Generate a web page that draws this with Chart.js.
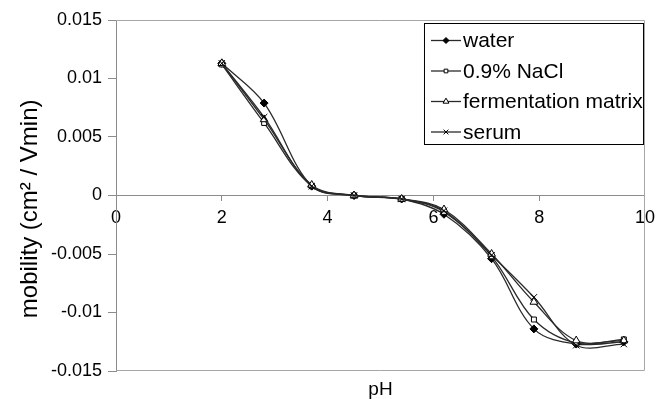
<!DOCTYPE html>
<html>
<head>
<meta charset="utf-8">
<script src="https://cdn.jsdelivr.net/npm/chart.js@4.4.0/dist/chart.umd.min.js"></script>
<style>
html,body{margin:0;padding:0;background:#fff;}
#wrap{width:662px;height:399px;position:relative;}
</style>
</head>
<body>
<div id="wrap"><canvas id="c" width="662" height="399"></canvas></div>
<script>
// ---- data ----
const pHValues      = [2.0, 2.8, 3.7, 4.5, 5.4, 6.2, 7.1, 7.9, 8.7, 9.6];
const waterValues   = [0.0113, 0.0079, 0.0008, 0.0000, -0.0003, -0.0016, -0.0054, -0.0114, -0.0127, -0.0125];
const naclValues    = [0.0112, 0.0062, 0.0008, 0.0000, -0.0003, -0.0014, -0.0052, -0.0106, -0.0126, -0.0123];
const fermValues    = [0.0113, 0.0065, 0.0009, 0.0000, -0.0003, -0.0012, -0.0050, -0.0091, -0.0124, -0.0124];
const serumValues   = [0.0113, 0.0067, 0.0008, 0.0000, -0.0003, -0.0013, -0.0051, -0.0087, -0.0128, -0.0127];
const seriesNames   = ['water', '0.9% NaCl', 'fermentation matrix', 'serum'];
const xTickValues   = [0, 2, 4, 6, 8, 10];
const yTickLabels   = ['-0.015', '-0.01', '-0.005', '0', '0.005', '0.01', '0.015'];
const xTitle = 'pH';
const yTitle = 'mobility (cm\u00B2 / Vmin)';

const FONT = '"Liberation Sans", Arial, Helvetica, sans-serif';
const AXIS_GRAY = '#8c8c8c';
const LINE_COLOR = '#2a2a2a';

function pts(ys) { return pHValues.map((x, i) => ({x: x, y: ys[i]})); }

const markerStyles = [
  {pointStyle: 'rectRot',  radius: 4,   bg: '#000000', border: '#000000'},
  {pointStyle: 'rect',     radius: 3.5, bg: '#ffffff', border: '#000000'},
  {pointStyle: 'triangle', radius: 4.5, bg: '#ffffff', border: '#000000'},
  {pointStyle: 'crossRot', radius: 4.5, bg: '#ffffff', border: '#000000'}
];
const seriesValues = [waterValues, naclValues, fermValues, serumValues];

const datasets = seriesValues.map((vals, i) => ({
  label: seriesNames[i],
  data: pts(vals),
  borderColor: LINE_COLOR,
  borderWidth: 1.3,
  tension: 0.35,
  pointStyle: markerStyles[i].pointStyle,
  pointRadius: markerStyles[i].radius,
  pointBackgroundColor: markerStyles[i].bg,
  pointBorderColor: markerStyles[i].border,
  pointBorderWidth: 1,
  fill: false,
  order: 4 - i
}));

// plot-area border (Excel style)
const plotBorder = {
  id: 'plotBorder',
  beforeDatasetsDraw(chart) {
    const {ctx, chartArea: a} = chart;
    ctx.save();
    ctx.strokeStyle = '#a6a6a6';
    ctx.lineWidth = 1;
    ctx.beginPath();
    ctx.moveTo(a.left, a.top + 0.5);
    ctx.lineTo(a.right - 0.5, a.top + 0.5);
    ctx.lineTo(a.right - 0.5, a.bottom - 0.5);
    ctx.lineTo(a.left, a.bottom - 0.5);
    ctx.stroke();
    ctx.restore();
  }
};

// boxed legend inside the plot area, upper right
const boxLegend = {
  id: 'boxLegend',
  afterDraw(chart) {
    const {ctx, chartArea: a} = chart;
    const boxRight = a.right - 1, boxTop = a.top + 3;
    const boxLeft = boxRight - 220, boxBottom = boxTop + 122;
    ctx.save();
    ctx.fillStyle = '#ffffff';
    ctx.fillRect(boxLeft, boxTop, boxRight - boxLeft, boxBottom - boxTop);
    ctx.strokeStyle = '#000000';
    ctx.lineWidth = 1;
    ctx.strokeRect(boxLeft + 0.5, boxTop + 0.5, boxRight - boxLeft - 1, boxBottom - boxTop - 1);
    ctx.font = '21px ' + FONT;
    ctx.textBaseline = 'middle';
    ctx.textAlign = 'left';
    chart.data.datasets.forEach((ds, i) => {
      const y = boxTop + 17.5 + i * 30.5;
      const x0 = boxLeft + 7, x1 = boxLeft + 37;
      ctx.strokeStyle = LINE_COLOR;
      ctx.lineWidth = 1.3;
      ctx.beginPath();
      ctx.moveTo(x0, y);
      ctx.lineTo(x1, y);
      ctx.stroke();
      ctx.fillStyle = ds.pointBackgroundColor;
      ctx.strokeStyle = ds.pointBorderColor;
      ctx.lineWidth = 1;
      Chart.helpers.drawPoint(ctx, {pointStyle: ds.pointStyle, radius: ds.pointRadius * 0.75, rotation: 0, borderWidth: 1}, (x0 + x1) / 2, y);
      ctx.fillStyle = '#000000';
      ctx.fillText(ds.label, x1 + 2, y + 1);
    });
    ctx.restore();
  }
};

new Chart(document.getElementById('c'), {
  type: 'line',
  data: {datasets: datasets},
  options: {
    responsive: false,
    animation: false,
    devicePixelRatio: 1,
    layout: {padding: {top: 20, right: 10, bottom: 0, left: 0}},
    plugins: {
      legend: {display: false},
      tooltip: {enabled: false},
      title: {
        display: true,
        position: 'bottom',
        fullSize: false,
        text: xTitle,
        color: '#000000',
        font: {family: FONT, size: 19, weight: 'normal', lineHeight: 1},
        padding: {top: 9, bottom: 0}
      }
    },
    scales: {
      x: {
        type: 'linear',
        min: 0, max: 10,
        position: {y: 0},
        afterFit(scale) { scale.height = 0; },
        afterBuildTicks(scale) { scale.ticks = xTickValues.map(v => ({value: v})); },
        ticks: {
          color: '#000000',
          font: {family: FONT, size: 18},
          padding: 7,
          maxRotation: 0,
          autoSkip: false,
          callback: (v) => String(v)
        },
        grid: {drawOnChartArea: false, drawTicks: true, tickLength: 5, color: AXIS_GRAY},
        border: {color: AXIS_GRAY, width: 1}
      },
      y: {
        type: 'linear',
        min: -0.015, max: 0.015,
        afterFit(scale) { scale.width = 116; },
        afterBuildTicks(scale) { scale.ticks = yTickLabels.map(s => ({value: Number(s)})); },
        ticks: {
          color: '#000000',
          font: {family: FONT, size: 18},
          padding: 6,
          autoSkip: false,
          callback: (v, i) => yTickLabels[i]
        },
        grid: {drawOnChartArea: false, drawTicks: true, tickLength: 8, color: AXIS_GRAY},
        border: {color: AXIS_GRAY, width: 1},
        title: {
          display: true,
          text: yTitle + '    ',
          color: '#000000',
          font: {family: FONT, size: 24, weight: 'normal', lineHeight: 1.2},
          padding: {top: 16, bottom: 0}
        }
      }
    }
  },
  plugins: [plotBorder, boxLegend]
});
</script>
</body>
</html>
